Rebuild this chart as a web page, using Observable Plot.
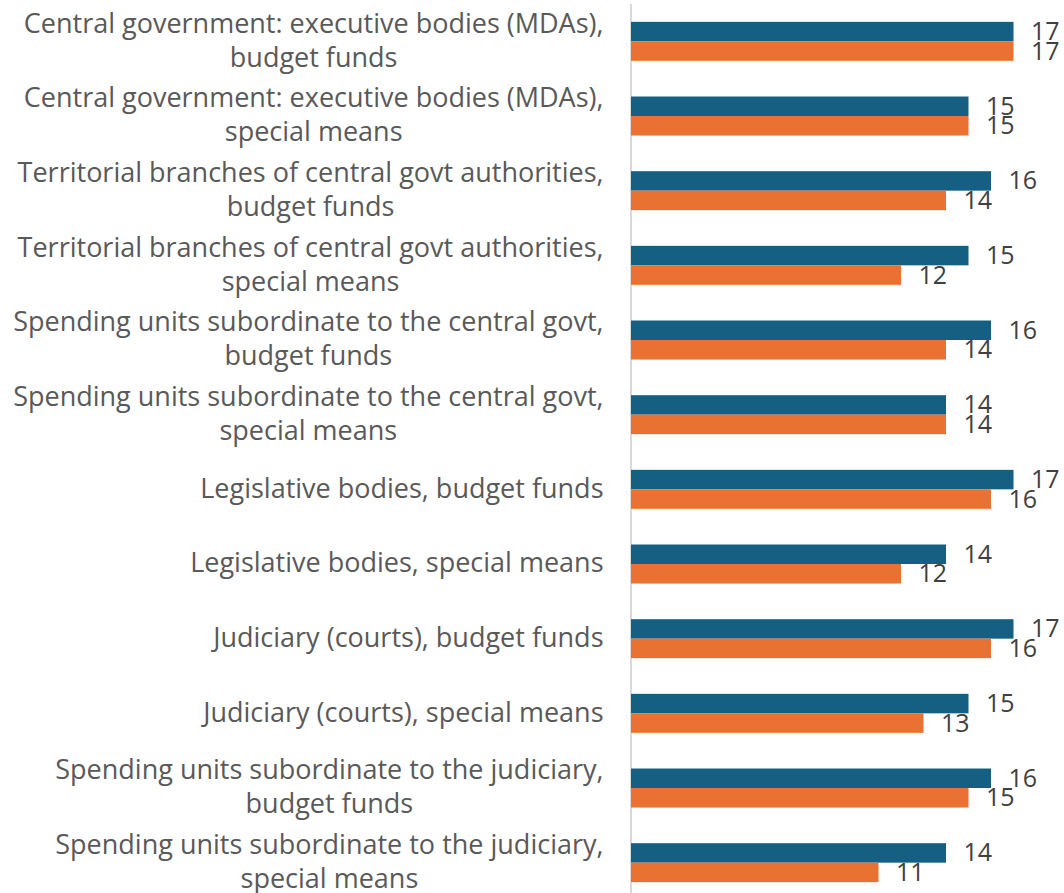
<!DOCTYPE html>
<html>
<head>
<meta charset="utf-8">
<script src="https://cdn.jsdelivr.net/npm/d3@7"></script>
<script src="https://cdn.jsdelivr.net/npm/@observablehq/plot@0.6"></script>
<style>
  html, body { margin: 0; padding: 0; background: #ffffff; }
  #chart { width: 1064px; height: 893px; overflow: hidden; }
</style>
</head>
<body>
<div id="chart"></div>
<script>
// ---- Data ----
const categories = [
  "Central government: executive bodies (MDAs),\nbudget funds",
  "Central government: executive bodies (MDAs),\nspecial means",
  "Territorial branches of central govt authorities,\nbudget funds",
  "Territorial branches of central govt authorities,\nspecial means",
  "Spending units subordinate to the central govt,\nbudget funds",
  "Spending units subordinate to the central govt,\nspecial means",
  "Legislative bodies, budget funds",
  "Legislative bodies, special means",
  "Judiciary (courts), budget funds",
  "Judiciary (courts), special means",
  "Spending units subordinate to the judiciary,\nbudget funds",
  "Spending units subordinate to the judiciary,\nspecial means"
];
const seriesNames = ["Series 1", "Series 2"];
const series1 = [17, 15, 16, 15, 16, 14, 17, 14, 17, 15, 16, 14];
const series2 = [17, 15, 14, 12, 14, 14, 16, 12, 16, 13, 15, 11];

// ---- Styling ----
const colors = ["#156082", "#E97132"];
const FONT = "Open Sans";
const catFontSize = 27;
const valFontSize = 25;

const rows = categories.map((c, i) => ({category: c, s1: series1[i], s2: series2[i]}));

// measure text width for centered multi-line category labels
const canvas = document.createElement("canvas");
const ctx = canvas.getContext("2d");
ctx.font = `${catFontSize}px "${FONT}"`;
const blockWidth = s => Math.max(...s.split("\n").map(l => ctx.measureText(l).width));

const width = 1064, height = 893, marginLeft = 631;
const xMax = 19.244;
const pxPerUnit = (width - marginLeft) / xMax;
const labelGap = 28; // px between label block and axis

const half = 38.97 / 2;

const chart = Plot.plot({
  width, height,
  marginLeft, marginRight: 0, marginTop: 4, marginBottom: 0,
  style: {fontFamily: `"${FONT}"`, background: "#ffffff", overflow: "visible"},
  x: {domain: [0, xMax], axis: null},
  y: {domain: categories, range: [4, 900], paddingInner: 0.478, paddingOuter: 0.239, round: false, axis: null},
  marks: [
    Plot.ruleX([0], {stroke: "#d9d9d9", strokeWidth: 2, dx: -0.5}),
    Plot.barX(rows, {y: "category", x: "s1", fill: colors[0], insetBottom: half, insetTop: 0, title: d => seriesNames[0]}),
    Plot.barX(rows, {y: "category", x: "s2", fill: colors[1], insetTop: half, insetBottom: 0, title: d => seriesNames[1]}),
    Plot.text(rows, {y: "category", x: "s1", text: "s1", dx: 17, dy: -half / 2, textAnchor: "start",
      fontSize: valFontSize, fill: "#404040"}),
    Plot.text(rows, {y: "category", x: "s2", text: "s2", dx: 17, dy: half / 2, textAnchor: "start",
      fontSize: valFontSize, fill: "#404040"}),
    Plot.text(rows, {
      y: "category",
      x: d => -(labelGap + blockWidth(d.category) / 2) / pxPerUnit,
      text: "category",
      textAnchor: "middle",
      lineHeight: 34 / catFontSize,
      dy: -3,
      fontSize: catFontSize,
      fill: "#595959"
    })
  ]
});
document.getElementById("chart").appendChild(chart);
</script>
</body>
</html>
